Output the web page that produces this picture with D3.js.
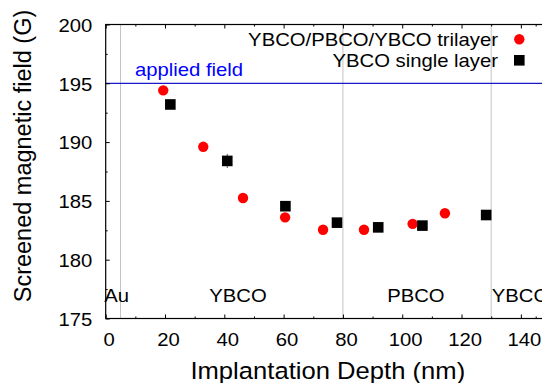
<!DOCTYPE html>
<html>
<head>
<meta charset="utf-8">
<script src="https://cdn.jsdelivr.net/npm/d3@7"></script>
<style>
  html, body { margin: 0; padding: 0; background: #fff; }
  svg { display: block; }
  text { font-family: "Liberation Sans", Arial, Helvetica, sans-serif; }
</style>
</head>
<body>
<svg id="chart" width="542" height="383"></svg>
<script>
// Screened field vs. implantation depth
const depthTrilayer = [19.4, 32.9, 46.3, 60.5, 73.3, 87.1, 103.5, 114.4];
const fieldTrilayer = [194.4, 189.6, 185.25, 183.6, 182.55, 182.55, 183.05, 183.95];

const depthSingle = [21.8, 41.0, 60.6, 78.0, 91.9, 106.8, 128.3];
const fieldSingle = [193.2, 188.4, 184.55, 183.15, 182.75, 182.9, 183.8];
const errSingle   = [0.3, 0.6, 0.3, 0.3, 0.3, 0.3, 0.3];

const seriesNames = ["YBCO/PBCO/YBCO trilayer", "YBCO single layer"];

const appliedField = 195;
const appliedLabel = "applied field";

const layerBoundaries = [5, 80, 130];
const layerNames  = ["Au", "YBCO", "PBCO", "YBCO"];
const layerDepths = [-0.5, 44.6, 104.6, 130.2];

const xTicks = [0, 20, 40, 60, 80, 100, 120, 140];
const xMinor = [10, 30, 50, 70, 90, 110, 130, 145];
const yTicks = [175, 180, 185, 190, 195, 200];
const yMinor = [177.5, 182.5, 187.5, 192.5, 197.5];

const xTitle = "Implantation Depth (nm)";
const yTitle = "Screened magnetic field (G)";

// layout
const L = 105.7, T = 24.5, B = 318.5, R = 550.5;
const SX = 1.09; // horizontal glyph stretch
const fs = 18.6;

const svg = d3.select("#chart");
const x = d3.scaleLinear().domain([0, 150]).range([L, R]);
const y = d3.scaleLinear().domain([175, 200]).range([B, T]);

// dotted layer boundaries
svg.append("g").selectAll("line").data(layerBoundaries).join("line")
  .attr("x1", d => x(d)).attr("x2", d => x(d))
  .attr("y1", T).attr("y2", B)
  .attr("stroke", "#888").attr("stroke-width", 1)
  .attr("stroke-dasharray", "1,1");

// applied field line
svg.append("line")
  .attr("x1", L).attr("x2", R)
  .attr("y1", y(appliedField)).attr("y2", y(appliedField))
  .attr("stroke", "#1a1acc").attr("stroke-width", 1.2);

function stretchedText(g, tx, ty, str, anchor, size, color) {
  return g.append("text")
    .attr("transform", `translate(${tx},${ty}) scale(${SX},1)`)
    .attr("text-anchor", anchor)
    .attr("font-size", size)
    .attr("fill", color || "#000")
    .text(str);
}

stretchedText(svg, 135, 75.5, appliedLabel, "start", fs, "#0000ff");

// axes (ticks drawn inward)
function styleAxis(g) {
  g.select(".domain").remove();
  g.selectAll(".tick line").attr("stroke", "#000").attr("stroke-width", 1);
}

const xAxisB = svg.append("g").attr("transform", `translate(0,${B})`)
  .call(d3.axisBottom(x).tickValues(xTicks).tickSize(-4).tickPadding(0).tickFormat(d3.format("d")));
styleAxis(xAxisB);
xAxisB.selectAll(".tick text").remove();
xAxisB.selectAll(".tick").each(function(d) {
  stretchedText(d3.select(this), 3, 27.5, d3.format("d")(d), "middle", fs);
});
svg.append("g").attr("transform", `translate(0,${B})`)
  .call(d3.axisBottom(x).tickValues(xMinor).tickSize(-2).tickFormat(""))
  .call(styleAxis);

const xAxisT = svg.append("g").attr("transform", `translate(0,${T})`)
  .call(d3.axisTop(x).tickValues(xTicks).tickSize(-4).tickFormat(""));
styleAxis(xAxisT);
svg.append("g").attr("transform", `translate(0,${T})`)
  .call(d3.axisTop(x).tickValues(xMinor).tickSize(-2).tickFormat(""))
  .call(styleAxis);

const yAxisL = svg.append("g").attr("transform", `translate(${L},0)`)
  .call(d3.axisLeft(y).tickValues(yTicks).tickSize(-4).tickFormat(d3.format("d")));
styleAxis(yAxisL);
yAxisL.selectAll(".tick text").remove();
yAxisL.selectAll(".tick").each(function(d) {
  stretchedText(d3.select(this), -13.5, 6.7, d3.format("d")(d), "end", fs);
});
svg.append("g").attr("transform", `translate(${L},0)`)
  .call(d3.axisLeft(y).tickValues(yMinor).tickSize(-2).tickFormat(""))
  .call(styleAxis);

// frame
svg.append("rect")
  .attr("x", L).attr("y", T).attr("width", R - L).attr("height", B - T)
  .attr("fill", "none").attr("stroke", "#000").attr("stroke-width", 1.2);

// layer names
layerNames.forEach((n, i) => {
  stretchedText(svg, x(layerDepths[i]), 302, n, i === 0 || i === 3 ? "start" : "middle", fs);
});

// error bars for the single layer
svg.append("g").selectAll("line").data(depthSingle).join("line")
  .attr("x1", d => x(d)).attr("x2", d => x(d))
  .attr("y1", (d, i) => y(fieldSingle[i] - errSingle[i]))
  .attr("y2", (d, i) => y(fieldSingle[i] + errSingle[i]))
  .attr("stroke", "#555").attr("stroke-width", 1);

// trilayer points
svg.append("g").selectAll("circle").data(depthTrilayer).join("circle")
  .attr("cx", d => x(d)).attr("cy", (d, i) => y(fieldTrilayer[i]))
  .attr("r", 5.2).attr("fill", "#ff0000");

// single layer points
const sq = 10.6;
svg.append("g").selectAll("rect").data(depthSingle).join("rect")
  .attr("x", d => x(d) - sq / 2).attr("y", (d, i) => y(fieldSingle[i]) - sq / 2)
  .attr("width", sq).attr("height", sq).attr("fill", "#000");

// legend
const leg = svg.append("g");
stretchedText(leg, 498, 45.7, seriesNames[0], "end", fs);
stretchedText(leg, 498, 66.7, seriesNames[1], "end", fs);
leg.append("circle").attr("cx", 519.3).attr("cy", 39.3).attr("r", 5.2).attr("fill", "#ff0000");
leg.append("rect").attr("x", 519.3 - sq / 2).attr("y", 60.3 - sq / 2)
  .attr("width", sq).attr("height", sq).attr("fill", "#000");

// axis titles
stretchedText(svg, 327.8, 378.5, xTitle, "middle", 23.5);
svg.append("text")
  .attr("transform", `translate(31,156) rotate(-90)`)
  .attr("text-anchor", "middle")
  .attr("font-size", 23.5)
  .text(yTitle);
</script>
</body>
</html>
